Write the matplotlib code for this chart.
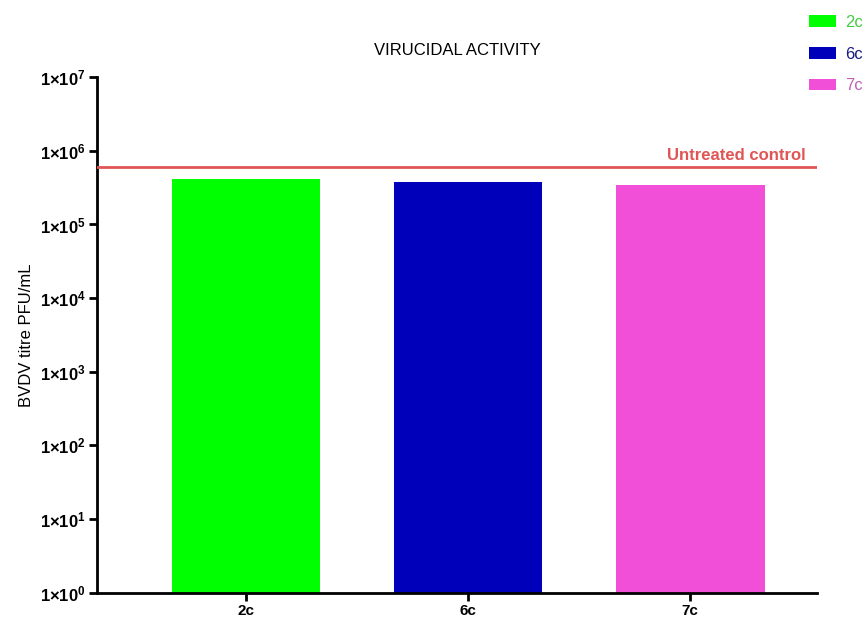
import matplotlib
matplotlib.use("Agg")
import matplotlib.pyplot as plt
import numpy as np

# values (PFU/mL)
compounds = ["2c", "6c", "7c"]
titres = [4.1e5, 3.8e5, 3.4e5]
bar_colors = ["#00ff00", "#0000bb", "#f24fd8"]
label_colors = ["#44cc44", "#1a1a80", "#c060b8"]
control_titre = 6.1e5
decades = [0, 1, 2, 3, 4, 5, 6, 7]

plt.rcParams['font.family'] = ['Liberation Sans', 'DejaVu Sans']
plt.rcParams['mathtext.fontset'] = 'custom'
plt.rcParams['mathtext.rm'] = 'Liberation Sans'
plt.rcParams['mathtext.bf'] = 'Liberation Sans:bold'

fig = plt.figure(figsize=(8.67, 6.22), dpi=100)
ax = fig.add_axes([0.112, 0.047, 0.83, 0.829])

x = np.arange(len(compounds))
bars = ax.bar(x, titres, width=0.67, color=bar_colors, bottom=1, zorder=2)
ax.axhline(control_titre, color="#e05555", lw=2, zorder=3)
ax.text(2.52, control_titre * 1.12, "Untreated control", color="#e05555",
        fontsize=12, fontweight="bold", ha="right", va="bottom")

ax.set_yscale("log")
ax.set_ylim(1, 1e7)
ax.set_xlim(-0.67, 2.57)
ax.set_yticks([10.0 ** d for d in decades])
ax.set_yticklabels([r"$\mathbf{1{\times}10^{%d}}$" % d for d in decades], fontsize=12)
ax.minorticks_off()
ax.set_xticks(x)
ax.set_xticklabels(compounds, fontsize=11, fontweight="bold")

for side in ["top", "right"]:
    ax.spines[side].set_visible(False)
for side in ["left", "bottom"]:
    ax.spines[side].set_linewidth(2)
ax.tick_params(width=2, length=6, direction="out", pad=2)

ax.set_ylabel("BVDV titre PFU/mL", fontsize=12)
ax.set_title("VIRUCIDAL ACTIVITY", fontsize=12, pad=16)

leg = fig.legend(bars, compounds, loc="upper right", bbox_to_anchor=(1.013, 1.0),
                 frameon=False, fontsize=12, handlelength=1.6, handleheight=0.7,
                 handletextpad=0.6, labelspacing=1.0, labelcolor=label_colors)

fig.savefig("out.png", dpi=100)
